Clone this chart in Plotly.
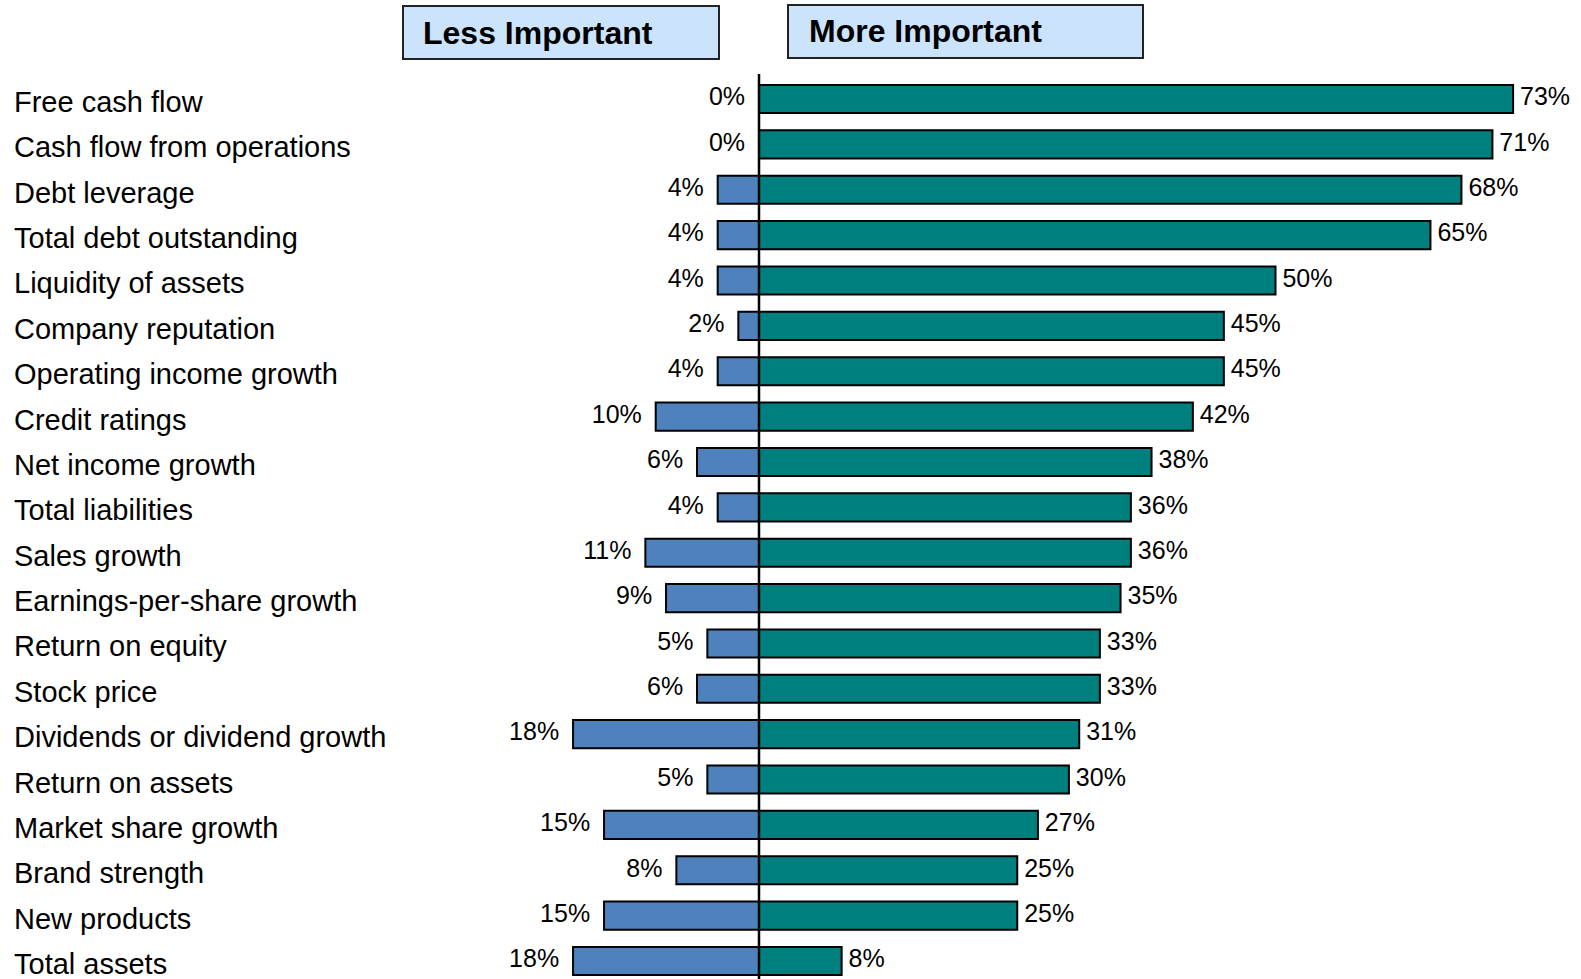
import plotly.graph_objects as go

# Survey: importance of financial measures
categories = [
    "Free cash flow", "Cash flow from operations", "Debt leverage",
    "Total debt outstanding", "Liquidity of assets", "Company reputation",
    "Operating income growth", "Credit ratings", "Net income growth",
    "Total liabilities", "Sales growth", "Earnings-per-share growth",
    "Return on equity", "Stock price", "Dividends or dividend growth",
    "Return on assets", "Market share growth", "Brand strength",
    "New products", "Total assets",
]
less_important = [0, 0, 4, 4, 4, 2, 4, 10, 6, 4, 11, 9, 5, 6, 18, 5, 15, 8, 15, 18]
more_important = [73, 71, 68, 65, 50, 45, 45, 42, 38, 36, 36, 35, 33, 33, 31, 30, 27, 25, 25, 8]
header_left = "Less Important"
header_right = "More Important"

W, H = 1581, 979
FONT = "Liberation Sans, Arial, sans-serif"
TEAL = "#007f7f"
BLUE = "#4f81bd"

# pixel geometry of the value axis: zero line and pixels per percent
x_zero_px = 759
px_per_pct = 10.33
x_range = [-x_zero_px / px_per_pct, (W - x_zero_px) / px_per_pct]

# category rows: first row centre and row pitch in pixels
row0_px, row_px = 99, 45.37
y_range = [(H - row0_px) / row_px, -row0_px / row_px]

neg_less = [-v for v in less_important]

fig = go.Figure()
fig.add_trace(go.Bar(
    y=categories, x=neg_less, orientation="h", width=0.62,
    marker=dict(color=BLUE, line=dict(color="black", width=2)),
    hoverinfo="skip", showlegend=False,
))
fig.add_trace(go.Bar(
    y=categories, x=more_important, orientation="h", width=0.62,
    marker=dict(color=TEAL, line=dict(color="black", width=2)),
    hoverinfo="skip", showlegend=False,
))

# value labels at the bar ends
fig.add_trace(go.Scatter(
    y=categories, x=neg_less, mode="text",
    text=[f"{v}%  " for v in less_important], textposition="middle left",
    textfont=dict(family=FONT, size=25, color="black"),
    hoverinfo="skip", showlegend=False,
))
fig.add_trace(go.Scatter(
    y=categories, x=more_important, mode="text",
    text=[f" {v}%" for v in more_important], textposition="middle right",
    textfont=dict(family=FONT, size=25, color="black"),
    hoverinfo="skip", showlegend=False,
))

# category names in a left-hand column
for cat in categories:
    fig.add_annotation(
        x=12 / W, xref="paper", y=cat, yref="y",
        text=cat, showarrow=False, xanchor="left", yanchor="middle",
        yshift=-3,
        font=dict(family=FONT, size=29, color="black"),
    )

# zero line
fig.add_shape(
    type="line", xref="x", yref="paper", x0=0, x1=0,
    y0=0, y1=1 - 74 / H, line=dict(color="black", width=2.5),
)

# header boxes
def header_box(x0, x1, y0, y1, label, text_x):
    fig.add_shape(
        type="rect", xref="paper", yref="paper",
        x0=x0 / W, x1=x1 / W, y0=1 - y1 / H, y1=1 - y0 / H,
        fillcolor="#cce4fb", line=dict(color="#222222", width=2),
    )
    fig.add_annotation(
        x=text_x / W, xref="paper", y=1 - (y0 + y1) / 2 / H, yref="paper",
        text=f"<b>{label}</b>", showarrow=False, xanchor="left", yanchor="middle",
        font=dict(family=FONT, size=32, color="black"),
    )

header_box(403, 719, 6, 59, header_left, 421)
header_box(788, 1143, 5, 58, header_right, 807)

fig.update_layout(
    width=W, height=H, barmode="overlay",
    margin=dict(l=0, r=0, t=0, b=0),
    paper_bgcolor="white", plot_bgcolor="white",
    xaxis=dict(range=x_range, visible=False, fixedrange=True),
    yaxis=dict(range=y_range, visible=False, type="category",
               categoryorder="array", categoryarray=categories, fixedrange=True),
)

fig.write_html("out.html")
